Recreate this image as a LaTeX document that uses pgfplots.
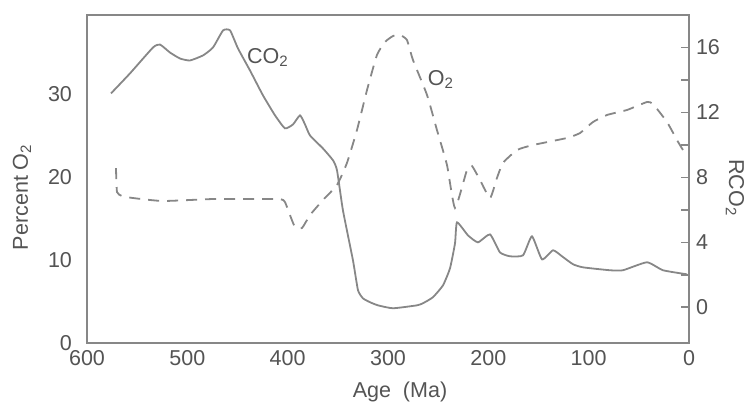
\documentclass[border=0pt]{standalone}
\usepackage{pgfplots}
\pgfplotsset{compat=1.18}
\usepackage{fontspec}
\setmainfont{Liberation Sans}
\definecolor{txt}{gray}{0.33}
\definecolor{ln}{gray}{0.53}
\begin{document}
\begin{tikzpicture}[font=\fontsize{10.8}{13}\selectfont]
\begin{axis}[
  name=ax,
  scale only axis, width=301bp, height=164bp,
  x dir=reverse, xmin=0, xmax=600,
  ymin=0, ymax=39.5,
  xtick={0,100,...,600}, ytick={0,10,20,30},
  major tick length=0pt,
  tick style={draw=none},
  axis line style={ln, line width=1bp},
  ticklabel style={text=txt},
  /pgf/number format/assume math mode=true,
  yticklabel style={xshift=-4bp},
]
\addplot[ln, line width=0.9bp, dash pattern=on 5.5bp off 4bp, smooth, tension=0.3] coordinates {
(571.1,21.07) (570.1,18.18) (565.1,17.70) (554.2,17.46) (524.3,17.10) (474.4,17.34)
(440.5,17.34) (407.6,17.34) (402.7,16.98) (397.7,15.41) (392.7,13.97) (385.7,13.85)
(377.7,15.41) (364.8,17.22) (350.8,19.03) (340.9,21.68) (330.9,25.65) (320.9,30.47)
(311.0,34.68) (303.0,36.25) (295.0,36.97) (288.0,37.09) (281.1,36.49) (275.1,34.08)
(261.1,29.87) (251.2,25.65) (241.2,21.44) (233.2,16.26) (221.3,20.83) (216.3,21.32)
(208.3,19.63) (198.3,17.46) (191.4,19.87) (185.4,21.68) (171.4,23.24) (155.5,23.84)
(121.6,24.69) (108.6,25.29) (95.7,26.61) (81.7,27.46) (61.8,28.06) (41.9,29.02)
(35.9,28.78) (21.9,26.61) (12.0,24.45) (6.0,23.24)
};
\node[txt] at (axis cs:419.6,34.4) {CO\textsubscript{2}};
\node[txt] at (axis cs:247.2,31.7) {O\textsubscript{2}};
\end{axis}
\begin{axis}[
  scale only axis, width=301bp, height=164bp,
  x dir=reverse, xmin=0, xmax=600,
  ymin=-2.2, ymax=18,
  axis x line=none,
  axis y line*=right,
  ytick pos=right, yticklabel pos=right,
  ytick={0,4,...,16},
  minor ytick={2,6,10,14},
  tick align=inside,
  major tick length=4bp, minor tick length=4bp,
  tick style={ln, line width=0.8bp},
  axis line style={ln, line width=1bp, -},
  ticklabel style={text=txt},
  /pgf/number format/assume math mode=true,
]
\addplot[ln, line width=0.9bp, smooth, tension=0.3] coordinates {
(576.1,13.17) (557.2,14.40) (534.2,16.00) (527.2,16.18) (517.3,15.69) (507.3,15.32)
(497.4,15.20) (484.4,15.51) (474.4,16.00) (464.4,17.05) (457.4,17.05) (449.5,15.94)
(437.5,14.58) (424.6,13.05) (412.6,11.82) (402.7,11.02) (394.7,11.26) (387.7,11.82)
(382.7,11.26) (377.7,10.58) (364.8,9.78) (354.8,9.05) (350.8,8.43) (344.9,5.97)
(334.9,2.89) (329.9,1.05) (324.9,0.55) (317.9,0.31) (310.0,0.12) (295.0,-0.06)
(271.1,0.12) (265.1,0.25) (255.2,0.62) (245.2,1.35) (238.2,2.40) (233.2,3.94)
(231.2,5.23) (220.3,4.43) (210.3,4.00) (198.3,4.49) (188.4,3.38) (178.4,3.14)
(165.4,3.20) (156.5,4.37) (146.5,2.95) (135.5,3.51) (126.6,3.14) (115.6,2.65)
(105.7,2.46) (78.7,2.28) (65.8,2.28) (41.9,2.77) (25.9,2.28) (2.0,2.03)
};
\end{axis}
\node[txt, rotate=90] at ([xshift=-32.5bp,yshift=-9bp]ax.west) {Percent O\textsubscript{2}};
\node[txt, rotate=-90] at ([xshift=23bp,yshift=-4.5bp]ax.east) {RCO\textsubscript{2}};
\node[txt] at ([xshift=6bp,yshift=-24.5bp]ax.south) {Age\ \ (Ma)};
\pgfresetboundingbox
\path[use as bounding box] ([xshift=-43.5bp,yshift=-31bp]ax.south west) rectangle ([xshift=28.5bp,yshift=7.5bp]ax.north east);
\end{tikzpicture}
\end{document}
